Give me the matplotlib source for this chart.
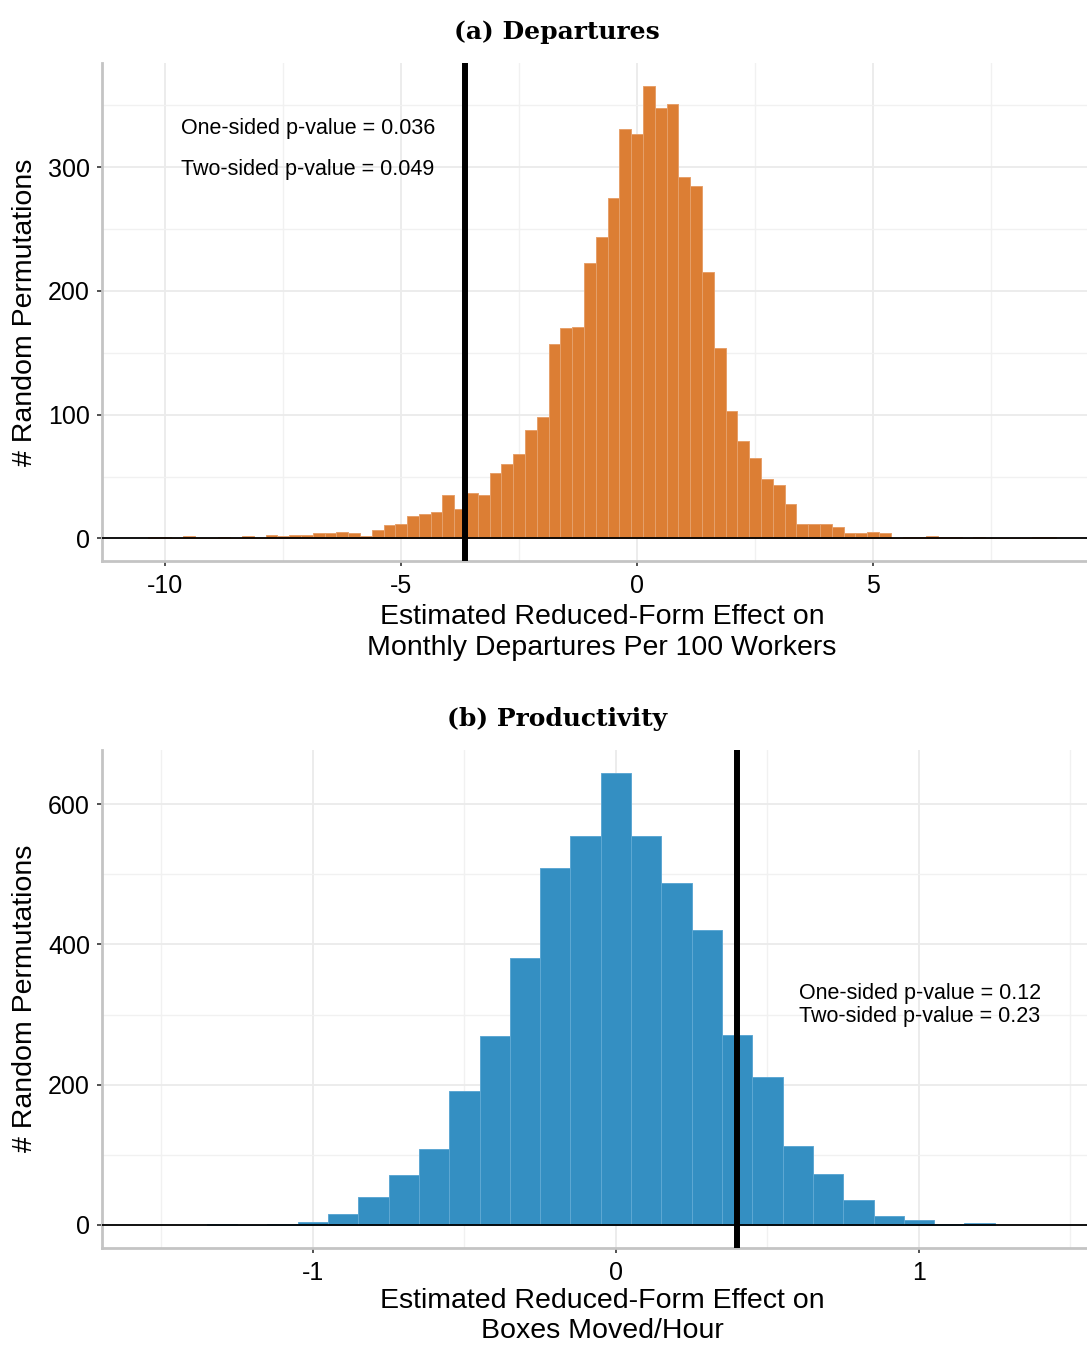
import numpy as np
import matplotlib
matplotlib.use("Agg")
import matplotlib.pyplot as plt

plt.rcParams['font.family'] = ['Liberation Sans', 'DejaVu Sans']
plt.rcParams['axes.unicode_minus'] = False

# ---- Panel (a): permutation estimates, departures (bins of width 0.25) ----
dep_first_bin = -10.25
dep_bin_width = 0.25
dep_counts = [1, 1, 0, 2, 0, 0, 1, 0, 2, 0, 3, 2, 3, 3, 4, 4, 5, 4, 2, 7,
              11, 12, 18, 20, 21, 35, 24, 37, 35, 53, 60, 68, 88, 98, 157,
              170, 171, 223, 244, 275, 331, 327, 366, 348, 351, 292, 285,
              215, 154, 103, 79, 65, 48, 43, 28, 12, 12, 12, 9, 4, 4, 5, 4,
              0, 1, 1, 2, 1, 1, 0, 1, 0, 0, 0, 0, 1, 1]
dep_estimate = -3.65
dep_pvals = ["One-sided p-value = 0.036", "Two-sided p-value = 0.049"]
dep_xticks = [-10, -5, 0, 5]
dep_yticks = [0, 100, 200, 300]

# ---- Panel (b): permutation estimates, productivity (bins of width 0.1) ----
prod_first_bin = -1.3
prod_bin_width = 0.1
prod_counts = [1, 0, 1, 4, 16, 40, 71, 108, 191, 269, 380, 509, 555, 645,
               555, 487, 421, 271, 211, 113, 72, 36, 12, 7, 1, 3]
prod_estimate = 0.40
prod_pvals = ["One-sided p-value = 0.12", "Two-sided p-value = 0.23"]
prod_xticks = [-1, 0, 1]
prod_yticks = [0, 200, 400, 600]

ORANGE, ORANGE_EDGE = '#DC7E34', '#E6A06A'
BLUE, BLUE_EDGE = '#348FC2', '#5EA8D3'
W, H = 1087, 1345

fig = plt.figure(figsize=(W / 100, H / 100), dpi=100)


def px_axes(left, top, right, bottom):
    return fig.add_axes([left / W, 1 - bottom / H, (right - left) / W, (bottom - top) / H])


def style(ax, xticks, xminor, yticks, yminor, xlabel, linespacing, labelpad):
    ax.set_xticks(xticks)
    ax.set_xticks(xminor, minor=True)
    ax.set_yticks(yticks)
    ax.set_yticks(yminor, minor=True)
    ax.grid(which='major', color='#EBEBEB', lw=1.3, zorder=0)
    ax.grid(which='minor', color='#F1F1F1', lw=1.0, zorder=0)
    ax.set_axisbelow(True)
    for s in ('top', 'right'):
        ax.spines[s].set_visible(False)
    for s in ('left', 'bottom'):
        ax.spines[s].set_color('#C4C4C4')
        ax.spines[s].set_linewidth(2.0)
    ax.tick_params(which='major', length=3.6, width=1.2, color='#333333',
                   labelsize=18, labelcolor='black')
    ax.tick_params(axis='x', which='major', pad=6)
    ax.tick_params(axis='y', which='major', pad=5)
    ax.tick_params(which='minor', length=0)
    ax.set_xlabel(xlabel, fontsize=20.5, linespacing=linespacing, labelpad=labelpad)
    ax.set_ylabel('# Random Permutations', fontsize=20.5, labelpad=7)


def draw_hist(ax, first, width, counts, color, edge):
    centers = first + width * np.arange(len(counts))
    ax.bar(centers, counts, width=width, color=color,
           edgecolor=edge, linewidth=0.7, zorder=2)
    ax.axhline(0, color='black', lw=1.3, zorder=3)


# Panel (a)
ax1 = px_axes(102, 63, 1102, 561)
draw_hist(ax1, dep_first_bin, dep_bin_width, dep_counts, ORANGE, ORANGE_EDGE)
ax1.axvline(dep_estimate, color='black', lw=4.3, zorder=4)
ax1.set_xlim(-11.34, 9.85)
ax1.set_ylim(-0.05 * max(dep_counts), 1.05 * max(dep_counts))
style(ax1, dep_xticks, [-7.5, -2.5, 2.5, 7.5], dep_yticks, [50, 150, 250, 350],
      'Estimated Reduced-Form Effect on\nMonthly Departures Per 100 Workers',
      1.27, 4)
ax1.text(-9.67, 327, dep_pvals[0], fontsize=15.5, ha='left', va='baseline', zorder=5)
ax1.text(-9.67, 293.6, dep_pvals[1], fontsize=15.5, ha='left', va='baseline', zorder=5)

# Panel (b)
ax2 = px_axes(102, 750, 1102, 1247.5)
draw_hist(ax2, prod_first_bin, prod_bin_width, prod_counts, BLUE, BLUE_EDGE)
ax2.axvline(prod_estimate, color='black', lw=4.3, zorder=4)
ax2.set_xlim(-1.696, 1.604)
ax2.set_ylim(-0.05 * max(prod_counts), 1.05 * max(prod_counts))
style(ax2, prod_xticks, [-1.5, -0.5, 0.5, 1.5], prod_yticks, [100, 300, 500],
      'Estimated Reduced-Form Effect on\nBoxes Moved/Hour', 1.2, 2.5)
ax2.text(0.605, 322.4, prod_pvals[0], fontsize=15.5, ha='left', va='baseline', zorder=5)
ax2.text(0.605, 289, prod_pvals[1], fontsize=15.5, ha='left', va='baseline', zorder=5)

# Panel titles
fig.text(557 / W, 1 - 39.3 / H, '(a) Departures', ha='center', va='baseline',
         fontsize=18, fontweight='bold', family='DejaVu Serif')
fig.text(557 / W, 1 - 726.3 / H, '(b) Productivity', ha='center', va='baseline',
         fontsize=18, fontweight='bold', family='DejaVu Serif')

fig.savefig('out.png', dpi=100)
